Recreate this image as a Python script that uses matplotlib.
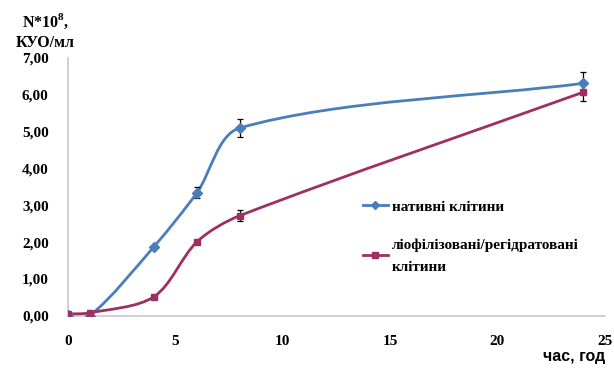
import numpy as np
import matplotlib.pyplot as plt
from matplotlib.path import Path
from matplotlib.patches import PathPatch

plt.rcParams['mathtext.fontset'] = 'custom'
plt.rcParams['mathtext.rm'] = 'Liberation Serif'
plt.rcParams['mathtext.bf'] = 'Liberation Serif:bold'

# час, год
hours = [0, 1, 4, 6, 8, 24]
native = [0.02, 0.00, 1.88, 3.34, 5.10, 6.31]
native_err = [0.0, 0.0, 0.0, 0.15, 0.25, 0.30]
lyo = [0.05, 0.08, 0.52, 2.01, 2.72, 6.07]
lyo_err = [0.0, 0.0, 0.0, 0.05, 0.15, 0.25]

blue = '#4A7EBB'
purple = '#9E2F61'

# approx pixels per data unit, used only to shape the smoothing
SX, SY = 21.45, 36.9


def smooth_path(x, y, k=0.3):
    # smoothed line through the points; tangents scaled by segment length
    pts = np.column_stack([np.asarray(x) * SX, np.asarray(y) * SY]).astype(float)
    n = len(pts)

    def tangent(i):
        a = pts[max(i - 1, 0)]
        b = pts[min(i + 1, n - 1)]
        d = b - a
        return d / np.hypot(*d)

    verts = [pts[0]]
    codes = [Path.MOVETO]
    for i in range(n - 1):
        p1, p2 = pts[i], pts[i + 1]
        L = np.hypot(*(p2 - p1))
        c1 = p1 + tangent(i) * L * k
        c2 = p2 - tangent(i + 1) * L * k
        verts += [c1, c2, p2]
        codes += [Path.CURVE4] * 3
    verts = np.array(verts) / [SX, SY]
    return Path(verts, codes)


fig = plt.figure(figsize=(6.14, 3.76), dpi=100)
ax = fig.add_axes([0.111, 0.160, 0.874, 0.686])

for ys, err, col, mk, ms in [(native, native_err, blue, 'D', 5.5),
                             (lyo, lyo_err, purple, 's', 5)]:
    ax.add_patch(PathPatch(smooth_path(hours, ys), fill=False,
                           edgecolor=col, lw=2, zorder=2))
    ax.errorbar(hours, ys, yerr=err, fmt='none', ecolor='black',
                elinewidth=0.9, capsize=2.5, capthick=0.9, zorder=3)
    ax.plot(hours, ys, linestyle='none', marker=mk, ms=ms, color=col, zorder=4)

ax.set_xlim(0, 25)
ax.set_ylim(0, 7)
ax.set_xticks([0, 5, 10, 15, 20, 25])
ax.set_yticks(np.arange(0, 7.5, 1))
ax.set_yticklabels([f'{v:.2f}'.replace('.', ',') for v in np.arange(0, 7.5, 1)])
for lab in ax.get_xticklabels() + ax.get_yticklabels():
    lab.set_fontfamily('Liberation Serif')
    lab.set_fontweight('bold')
    lab.set_fontsize(11)
ax.tick_params(length=0)
ax.tick_params(axis='y', pad=14)
ax.tick_params(axis='x', pad=14)
for s in ['top', 'right']:
    ax.spines[s].set_visible(False)
for s in ['left', 'bottom']:
    ax.spines[s].set_color('#C8C8C8')
    ax.spines[s].set_linewidth(1.2)

fig.text(0.074, 0.942, 'N*10$^{\\mathbf{8}}$,', ha='center', va='center',
         fontfamily='Liberation Serif', fontweight='bold', fontsize=11.5)
fig.text(0.074, 0.885, 'КУО/мл', ha='center', va='center',
         fontfamily='Liberation Serif', fontweight='bold', fontsize=11.5)
fig.text(0.985, 0.053, 'час, год', ha='right', va='center',
         fontfamily='Liberation Sans', fontweight='bold', fontsize=11.5)

h1, = ax.plot([], [], color=blue, marker='D', ms=4, lw=2)
h2, = ax.plot([], [], color=purple, marker='s', ms=4, lw=2)
leg = fig.legend([h1, h2], ['нативні клітини', 'ліофілізовані/регідратовані\nклітини'],
                 loc='upper left', bbox_to_anchor=(0.569, 0.505), frameon=False,
                 handlelength=1.6, handletextpad=0.3, labelspacing=1.6,
                 prop={'family': 'Liberation Serif', 'weight': 'bold', 'size': 11})
for t in leg.get_texts():
    t.set_linespacing(1.9)

fig.savefig('out.png', dpi=100)
